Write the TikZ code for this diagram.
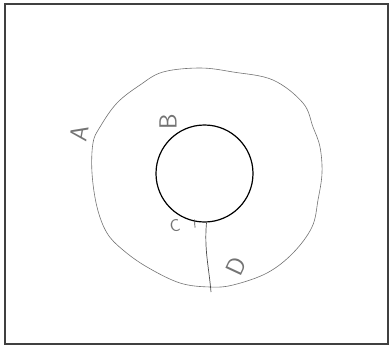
\documentclass[tikz,border=0pt]{standalone}
\begin{document}
\begin{tikzpicture}[x=1bp,y=-1bp,font=\sffamily\Huge,
  sketch/.style={black!55,line width=0.6bp},
  letter/.style={text=black!55,inner sep=0pt}]
  \useasboundingbox (0,0) rectangle (390,347);
  \draw[black!75,line width=1.2bp] (5,4) rectangle (388,344);

  % outer hand-drawn ring
  \draw[sketch] plot[smooth cycle,tension=0.6] coordinates {
    (163,72) (200,68) (233,72) (273,80) (303,103) (313,127) (320,147)
    (322,173) (318,200) (312,227) (293,253) (267,273) (233,285) (210,287)
    (180,283) (147,267) (123,250) (107,233) (97,207) (92,173) (93,143)
    (100,127) (117,103) (140,85)};

  % inner circle and its lead
  \node[circle,draw,line width=1.2bp,minimum size=97bp,inner sep=0pt] (hole) at (204.5,173.5) {};
  \coordinate (tail) at (211,292);
  \draw[black!70,line width=0.7bp] (hole.south) ++(2,0) coordinate (top) to[out=-95,in=95] (tail);
  \draw[black!70,line width=0.7bp] (hole.south) ++(-10,-3) coordinate (tick) -- ++(0.5,8);

  \node[letter,rotate=80] (labA) at (79,133) {A};
  \node[letter,rotate=90] (labB) at (168,122) {B};
  \node[letter,rotate=10,font=\sffamily\LARGE] (labC) at (175,226) {C};
  \node[letter,rotate=65] (labD) at (236,266) {D};
\end{tikzpicture}
\end{document}
